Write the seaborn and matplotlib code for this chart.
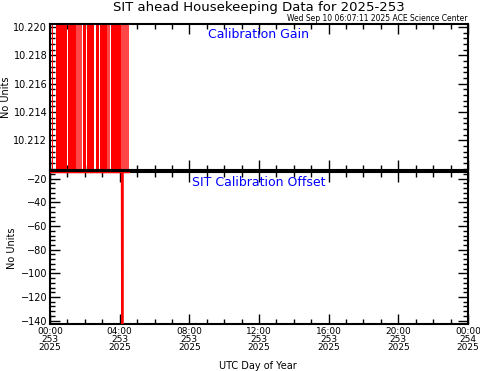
import matplotlib
matplotlib.use("Agg")
import matplotlib.pyplot as plt
import seaborn as sns
import pandas as pd
from matplotlib.ticker import MultipleLocator, FixedLocator

sns.set_style("white")
plt.rcParams['font.family'] = ['DejaVu Sans']
plt.rcParams['text.color'] = 'black'
plt.rcParams['axes.labelcolor'] = 'black'
plt.rcParams['xtick.color'] = 'black'
plt.rcParams['ytick.color'] = 'black'

# ---- data ----
title = "SIT ahead Housekeeping Data for 2025-253"
stamp = "Wed Sep 10 06:07:11 2025 ACE Science Center"
xtick_hours = [0, 4, 8, 12, 16, 20, 24]
xtick_labels = ["00:00\n253\n2025", "04:00\n253\n2025", "08:00\n253\n2025",
                "12:00\n253\n2025", "16:00\n253\n2025", "20:00\n253\n2025",
                "00:00\n254\n2025"]
gain_ticks = [10.212, 10.214, 10.216, 10.218, 10.220]
offset_ticks = [-140, -120, -100, -80, -60, -40, -20]

# Calibration Gain: intervals (UTC hours) where the gain toggles across the full range
gain_start = [0.03, 0.14, 0.34, 1.05, 1.47, 1.91, 2.14, 2.62, 2.89, 3.25, 3.48, 4.08]
gain_end   = [0.07, 0.19, 0.98, 1.47, 1.82, 2.08, 2.55, 2.81, 3.25, 3.42, 4.08, 4.51]
gain_dense = [1, 1, 1, 1, 0, 1, 1, 1, 1, 0, 1, 0]

# Calibration Offset time series
offset_hours  = [0.00, 4.13, 4.15, 4.17, 4.55]
offset_values = [-14.4, -14.4, -200.0, -14.4, -14.4]

gain_ylim = (10.2099, 10.2202)
offset_ylim = (-142.8, -14.3)

# ---- figure ----
fig = plt.figure(figsize=(4.81, 3.71), dpi=100)
W, H = 481, 371
def pos(x0, y0, x1, y1):
    return [x0 / W, 1 - y1 / H, (x1 - x0) / W, (y1 - y0) / H]

ax1 = fig.add_axes(pos(50, 24, 468, 170))
ax2 = fig.add_axes(pos(50, 172, 468, 324))

for s, e, d in zip(gain_start, gain_end, gain_dense):
    ax1.axvspan(s, e, color="#ff0000" if d else "#ff4545", lw=0)

df = pd.DataFrame({"hour": offset_hours, "value": offset_values})
sns.lineplot(data=df, x="hour", y="value", ax=ax2, color="#ff0000", lw=1.6,
             estimator=None, sort=False, zorder=5)

for ax in (ax1, ax2):
    ax.set_xlim(0, 24)
    ax.xaxis.set_major_locator(FixedLocator(xtick_hours))
    ax.xaxis.set_minor_locator(MultipleLocator(1))
    ax.tick_params(which="both", direction="in", top=True, right=True,
                   bottom=True, left=True, color="black", width=1.0, pad=2)
    ax.tick_params(axis="y", labelsize=7)
    ax.tick_params(axis="x", labelsize=6.5)
    ax.tick_params(which="major", length=7)
    ax.tick_params(which="minor", length=3.5)
    for sp in ax.spines.values():
        sp.set_color("black")
        sp.set_linewidth(1.5)
    ax.set_xlabel("")
    ax.set_ylabel("No Units", fontsize=7)

ax1.set_ylim(*gain_ylim)
ax1.yaxis.set_major_locator(FixedLocator(gain_ticks))
ax1.yaxis.set_minor_locator(MultipleLocator(0.0004))
ax1.set_yticklabels([f"{v:.3f}" for v in gain_ticks])
ax1.set_xticklabels([])
ax1.yaxis.set_label_coords(-0.093, 0.5)

ax2.set_ylim(*offset_ylim)
ax2.yaxis.set_major_locator(FixedLocator(offset_ticks))
ax2.yaxis.set_minor_locator(MultipleLocator(4))
ax2.set_yticklabels([f"\u2212{abs(v)}" for v in offset_ticks])
ax2.set_xticklabels(xtick_labels, linespacing=0.88)
ax2.yaxis.set_label_coords(-0.078, 0.5)

ax1.text(0.5, 0.93, "Calibration Gain", transform=ax1.transAxes, ha="center",
         va="center", color="#0000ff", fontsize=9)
ax2.text(0.5, 0.93, "SIT Calibration Offset", transform=ax2.transAxes, ha="center",
         va="center", color="#0000ff", fontsize=9)

fig.text(259 / W, 1 - 8 / H, title, ha="center", va="center", fontsize=9.5)
fig.text(468 / W, 1 - 18.5 / H, stamp, ha="right", va="center", fontsize=5.5)
fig.text(258 / W, 1 - 366 / H, "UTC Day of Year", ha="center", va="center", fontsize=7)

fig.savefig("out.png", dpi=100, facecolor="white")
